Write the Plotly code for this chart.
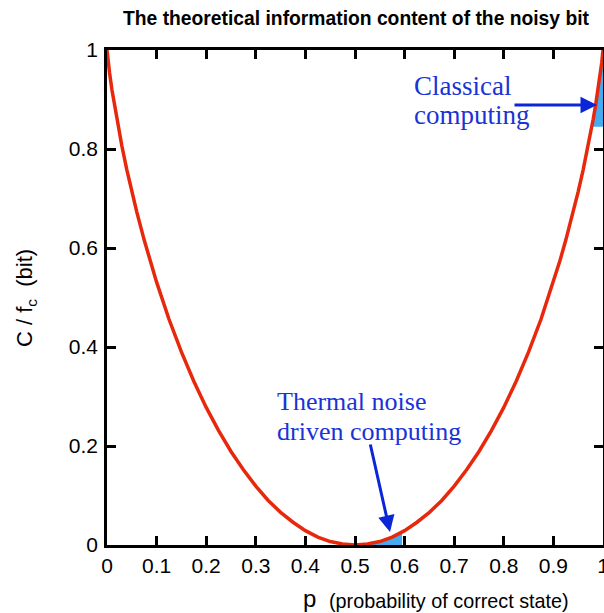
import plotly.graph_objects as go

# ---- data ----
p_vals = [0, 0.0025, 0.005, 0.01, 0.015, 0.02, 0.03, 0.04, 0.05, 0.06, 0.075, 0.0875, 0.1,
          0.125, 0.15, 0.175, 0.2, 0.225, 0.25, 0.275, 0.3, 0.325, 0.35, 0.375, 0.4, 0.425,
          0.45, 0.475, 0.5, 0.525, 0.55, 0.575, 0.6, 0.625, 0.65, 0.675, 0.7, 0.725, 0.75,
          0.775, 0.8, 0.825, 0.85, 0.875, 0.9, 0.9125, 0.925, 0.94, 0.95, 0.96, 0.97, 0.98,
          0.985, 0.99, 0.995, 0.9975, 1.0]
c_vals = [1.0, 0.975, 0.955, 0.919, 0.888, 0.859, 0.806, 0.758, 0.714, 0.673, 0.616, 0.572, 0.531,
          0.456, 0.390, 0.331, 0.278, 0.231, 0.189, 0.152, 0.119, 0.090, 0.066, 0.046, 0.029, 0.016,
          0.007, 0.002, 0.0, 0.002, 0.007, 0.016, 0.029, 0.046, 0.066, 0.090, 0.119, 0.152, 0.189,
          0.231, 0.278, 0.331, 0.390, 0.456, 0.531, 0.572, 0.616, 0.673, 0.714, 0.758, 0.806, 0.859,
          0.888, 0.919, 0.955, 0.975, 1.0]

# shaded region: thermal-noise-driven computing (under the curve)
noise_p = [0.53, 0.54, 0.55, 0.5625, 0.575, 0.5875, 0.595]
noise_c = [0.003, 0.005, 0.007, 0.011, 0.016, 0.022, 0.026]

# shaded region: classical computing (under the curve, above 0.845)
classic_p = [0.979, 0.985, 0.99, 0.995, 1.0, 1.0]
classic_c = [0.845, 0.888, 0.919, 0.955, 1.0, 0.845]

x_ticks = [0, 0.1, 0.2, 0.3, 0.4, 0.5, 0.6, 0.7, 0.8, 0.9, 1.0]
x_labels = ["0", "0.1", "0.2", "0.3", "0.4", "0.5", "0.6", "0.7", "0.8", "0.9", "1"]
y_ticks = [0, 0.2, 0.4, 0.6, 0.8, 1.0]
y_labels = ["0", "0.2", "0.4", "0.6", "0.8", "1"]

title_text = "The theoretical information content of the noisy bit"

RED = "#e8280c"
FILL = "#45aaf0"
TXT_BLUE = "#1a33d6"
ARROW_BLUE = "#0a26d6"
SANS = "Liberation Sans, Arial, sans-serif"
SERIF = "Liberation Serif, Times New Roman, serif"

# pixel -> data helpers (plot area: x 107..603, y 50..545)
def dx(px):
    return (px - 107) / 496.0

def dy(py):
    return (545 - py) / 495.0

fig = go.Figure()
fig.add_trace(go.Scatter(x=noise_p, y=noise_c, mode="lines", fill="tozeroy",
                         fillcolor=FILL, line=dict(width=0, color=FILL), hoverinfo="skip"))
fig.add_trace(go.Scatter(x=classic_p, y=classic_c, mode="lines", fill="toself",
                         fillcolor=FILL, line=dict(width=0, color=FILL), hoverinfo="skip"))
fig.add_trace(go.Scatter(x=p_vals, y=c_vals, mode="lines",
                         line=dict(color=RED, width=3.5)))

axis_common = dict(showgrid=False, zeroline=False, ticks="inside", ticklen=9, tickwidth=2.5,
                   tickcolor="black", showline=True, linecolor="black", linewidth=2.5,
                   mirror="ticks", ticklabeloverflow="allow", automargin=False,
                   tickfont=dict(family=SANS, size=21, color="black"))

fig.update_xaxes(range=[0, 1], tickvals=x_ticks, ticktext=x_labels, **axis_common)
fig.update_yaxes(range=[0, 1], tickvals=y_ticks, ticktext=y_labels, ticklabelstandoff=2,
                 **axis_common)

ann = []
ann.append(dict(text="<b>" + title_text + "</b>", xref="paper", yref="paper",
                x=dx(356), y=dy(18), xanchor="center", yanchor="middle", showarrow=False,
                font=dict(family=SANS, size=19.3, color="black")))
ann.append(dict(text="C / f<sub>c</sub>  (bit)", xref="paper", yref="paper",
                x=dx(26), y=dy(298), xanchor="center", yanchor="middle", textangle=-90,
                showarrow=False, font=dict(family=SANS, size=22, color="black")))
ann.append(dict(text="p", xref="paper", yref="paper", x=dx(309), y=dy(598),
                xanchor="center", yanchor="middle", showarrow=False,
                font=dict(family=SANS, size=24, color="black")))
ann.append(dict(text="(probability of correct state)", xref="paper", yref="paper",
                x=dx(327), y=dy(601), xanchor="left", yanchor="middle", showarrow=False,
                font=dict(family=SANS, size=19.8, color="black")))
# label texts
for txt, px, py, fs in [("Classical", 412, 86, 27), ("computing", 412, 115, 27),
                        ("Thermal noise", 275, 401, 26), ("driven computing", 275, 431, 26)]:
    ann.append(dict(text=txt, xref="x", yref="y", x=dx(px), y=dy(py), xanchor="left",
                    yanchor="middle", showarrow=False,
                    font=dict(family=SERIF, size=fs, color=TXT_BLUE)))
# arrows
ann.append(dict(text="", xref="x", yref="y", axref="x", ayref="y",
                x=dx(597), y=dy(105), ax=dx(513), ay=dy(105), showarrow=True,
                arrowhead=2, arrowsize=1.1, arrowwidth=3, arrowcolor=ARROW_BLUE))
ann.append(dict(text="", xref="x", yref="y", axref="x", ayref="y",
                x=dx(390), y=dy(532), ax=dx(370), ay=dy(443), showarrow=True,
                arrowhead=2, arrowsize=1.1, arrowwidth=3, arrowcolor=ARROW_BLUE))

fig.update_layout(width=604, height=613, margin=dict(l=107, r=1, t=50, b=68),
                  plot_bgcolor="white", paper_bgcolor="white", showlegend=False,
                  annotations=ann)

fig.write_html("out.html", config={"displayModeBar": False},
               post_script="document.body.style.margin='0';document.body.style.overflow='hidden';")
